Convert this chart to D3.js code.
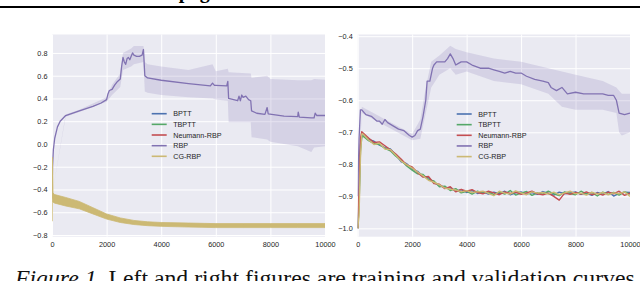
<!DOCTYPE html>
<html>
<head>
<meta charset="utf-8">
<script src="https://cdn.jsdelivr.net/npm/d3@7"></script>
<style>
  body { margin: 0; background: #fff; }
  svg { display: block; }
</style>
</head>
<body>
<div id="plot"></div>
<script>
// series names + seaborn "deep" colours
let seriesNames = ['BPTT', 'TBPTT', 'Neumann-RBP', 'RBP', 'CG-RBP'];
let colorArray = d3.scaleOrdinal()
  .domain(seriesNames)
  .range(['#4C72B0', '#55A868', '#C44E52', '#8172B2', '#CCB974']);

let xTicks = [0, 2000, 4000, 6000, 8000, 10000];
let leftYTicks = [0.8, 0.6, 0.4, 0.2, 0.0, -0.2, -0.4, -0.6, -0.8];
let rightYTicks = [-0.4, -0.5, -0.6, -0.7, -0.8, -0.9, -1.0];

// ---- left figure (training) ----
let trainRbpX = [0, 20, 50, 100, 200, 300, 500, 1000, 1500, 1800, 2000, 2050, 2100, 2200, 2300, 2400, 2500, 2550, 2600, 2650, 2700, 2750, 2800, 2850, 2900, 2950, 3000, 3100, 3200, 3300, 3350, 3400, 3500, 4000, 5000, 5800, 5880, 5950, 6000, 6400, 6440, 6470, 6800, 6850, 6900, 6950, 7000, 7100, 7200, 7280, 7310, 7500, 7800, 7880, 7920, 8500, 9000, 9020, 9060, 9500, 9600, 9640, 9700, 10000];
let trainRbpY = [-0.45, -0.2, -0.05, 0.05, 0.15, 0.2, 0.25, 0.29, 0.33, 0.36, 0.39, 0.44, 0.47, 0.48, 0.52, 0.55, 0.57, 0.68, 0.76, 0.72, 0.70, 0.75, 0.76, 0.74, 0.77, 0.80, 0.78, 0.77, 0.77, 0.78, 0.83, 0.60, 0.58, 0.56, 0.53, 0.51, 0.535, 0.515, 0.515, 0.51, 0.55, 0.40, 0.38, 0.42, 0.38, 0.43, 0.41, 0.42, 0.39, 0.38, 0.29, 0.27, 0.26, 0.32, 0.265, 0.245, 0.24, 0.28, 0.235, 0.23, 0.23, 0.27, 0.25, 0.25];
let trainBandX = [0, 500, 1000, 2000, 2200, 2500, 2600, 2900, 3000, 3350, 3400, 3500, 4000, 5000, 5880, 6000, 6440, 6470, 7280, 7310, 7880, 8000, 9000, 9500, 9600, 10000];
let trainBandHi = [-0.45, 0.26, 0.30, 0.41, 0.52, 0.62, 0.80, 0.84, 0.86, 0.86, 0.72, 0.70, 0.68, 0.65, 0.70, 0.64, 0.66, 0.63, 0.62, 0.58, 0.60, 0.57, 0.56, 0.56, 0.57, 0.565];
let trainBandLo = [-0.45, 0.24, 0.28, 0.37, 0.43, 0.50, 0.65, 0.68, 0.70, 0.72, 0.46, 0.45, 0.43, 0.41, 0.40, 0.39, 0.38, 0.19, 0.19, 0.06, 0.04, 0.02, -0.02, -0.07, -0.03, -0.02];

let trainLowX = [30, 100, 500, 1000, 1500, 2000, 2500, 3000, 3500, 4000, 5000, 6000, 7000, 8000, 9000, 10000];
let trainLowHi = [-0.43, -0.445, -0.47, -0.505, -0.56, -0.615, -0.65, -0.672, -0.684, -0.69, -0.695, -0.70, -0.70, -0.70, -0.70, -0.70];
let trainLowLo = [-0.51, -0.52, -0.545, -0.57, -0.615, -0.66, -0.69, -0.708, -0.718, -0.724, -0.73, -0.735, -0.735, -0.735, -0.735, -0.735];
let trainLowMid = [-0.47, -0.482, -0.508, -0.538, -0.588, -0.638, -0.67, -0.69, -0.701, -0.707, -0.712, -0.717, -0.717, -0.717, -0.717, -0.717];
let trainCgX = [0, 10, 30, 100, 500, 1000, 1500, 2000, 2500, 3000, 3500, 4000, 5000, 6000, 7000, 8000, 9000, 10000];
let trainCgY = [-0.68, -0.12, -0.47, -0.48, -0.506, -0.54, -0.586, -0.64, -0.668, -0.69, -0.70, -0.708, -0.71, -0.718, -0.716, -0.719, -0.717, -0.72];

// ---- right figure (validation) ----
let validRbpX = [0, 50, 100, 150, 300, 500, 700, 800, 900, 1000, 1100, 1300, 1500, 1700, 1900, 2000, 2100, 2200, 2300, 2400, 2500, 2550, 2650, 2750, 2800, 2900, 3200, 3300, 3400, 3500, 3600, 3700, 3800, 4000, 4200, 4500, 4800, 5000, 5200, 5400, 5600, 5800, 6000, 6200, 6500, 6800, 7000, 7100, 7300, 7500, 7700, 8000, 8300, 8600, 9000, 9200, 9400, 9500, 9600, 9800, 10000];
let validRbpY = [-0.90, -0.72, -0.63, -0.63, -0.645, -0.65, -0.665, -0.665, -0.675, -0.66, -0.67, -0.68, -0.69, -0.695, -0.71, -0.715, -0.71, -0.695, -0.69, -0.65, -0.60, -0.54, -0.54, -0.50, -0.49, -0.48, -0.48, -0.47, -0.455, -0.47, -0.49, -0.485, -0.48, -0.48, -0.49, -0.50, -0.50, -0.505, -0.51, -0.515, -0.51, -0.515, -0.515, -0.525, -0.535, -0.54, -0.545, -0.56, -0.57, -0.56, -0.58, -0.575, -0.58, -0.58, -0.58, -0.585, -0.585, -0.60, -0.64, -0.645, -0.64];
let validBandX = [0, 150, 2000, 2300, 2500, 2700, 3000, 3400, 3600, 4000, 5000, 6000, 7000, 7500, 8000, 9000, 9500, 9600, 9700, 10000];
let validBandHi = [-0.90, -0.62, -0.705, -0.66, -0.56, -0.48, -0.46, -0.43, -0.44, -0.45, -0.47, -0.48, -0.50, -0.51, -0.52, -0.54, -0.56, -0.57, -0.58, -0.58];
let validBandLo = [-0.90, -0.64, -0.725, -0.72, -0.64, -0.56, -0.52, -0.50, -0.52, -0.51, -0.54, -0.55, -0.58, -0.62, -0.63, -0.63, -0.64, -0.70, -0.71, -0.70];

let validLowX = [0, 50, 100, 150, 200, 400, 600, 800, 1000, 1200, 1400, 1600, 1800, 2000, 2200, 2400, 2600, 2800, 3000, 3200, 3400, 3600, 3800, 4000, 4200, 4400, 4600, 4800, 5000, 5200, 5400, 5600, 5800, 6000, 6200, 6400, 6600, 6800, 7000, 7200, 7400, 7600, 7800, 8000, 8200, 8400, 8600, 8800, 9000, 9200, 9400, 9600, 9800, 10000];
let validBptt = [-1.00, -0.90, -0.74, -0.71,
  -0.708, -0.722, -0.728, -0.740, -0.748, -0.752, -0.770, -0.792, -0.798, -0.815,
  -0.822, -0.838, -0.842, -0.858, -0.866, -0.872, -0.873, -0.884, -0.879, -0.888,
  -0.882, -0.891, -0.886, -0.893, -0.887, -0.892, -0.884, -0.895, -0.889, -0.886,
  -0.893, -0.888, -0.894, -0.885, -0.891, -0.896, -0.887, -0.892, -0.889, -0.886,
  -0.894, -0.890, -0.897, -0.888, -0.893, -0.885, -0.899, -0.891, -0.887, -0.888];
let validTbptt = [-1.00, -0.93, -0.76, -0.715,
  -0.712, -0.726, -0.735, -0.738, -0.750, -0.758, -0.775, -0.788, -0.805, -0.818,
  -0.830, -0.832, -0.848, -0.852, -0.870, -0.868, -0.882, -0.876, -0.889, -0.884,
  -0.893, -0.884, -0.890, -0.886, -0.895, -0.887, -0.893, -0.882, -0.896, -0.890,
  -0.885, -0.897, -0.889, -0.893, -0.884, -0.892, -0.898, -0.886, -0.891, -0.895,
  -0.884, -0.893, -0.888, -0.899, -0.887, -0.894, -0.888, -0.896, -0.886, -0.893];
let validNeumann = [-1.00, -0.86, -0.72, -0.698,
  -0.702, -0.718, -0.732, -0.730, -0.742, -0.755, -0.768, -0.784, -0.802, -0.808,
  -0.826, -0.840, -0.838, -0.860, -0.862, -0.876, -0.870, -0.886, -0.878, -0.884,
  -0.879, -0.888, -0.892, -0.884, -0.889, -0.895, -0.886, -0.891, -0.887, -0.894,
  -0.889, -0.884, -0.892, -0.895, -0.890, -0.900, -0.912, -0.890, -0.894, -0.888,
  -0.893, -0.886, -0.895, -0.890, -0.896, -0.887, -0.892, -0.884, -0.897, -0.890];
let validCg = [-1.00, -0.96, -0.78, -0.705,
  -0.706, -0.724, -0.738, -0.734, -0.752, -0.754, -0.772, -0.790, -0.801, -0.812,
  -0.824, -0.836, -0.850, -0.856, -0.864, -0.874, -0.878, -0.880, -0.886, -0.882,
  -0.888, -0.886, -0.884, -0.891, -0.898, -0.884, -0.890, -0.893, -0.883, -0.889,
  -0.895, -0.886, -0.890, -0.888, -0.893, -0.887, -0.895, -0.889, -0.884, -0.892,
  -0.890, -0.896, -0.887, -0.893, -0.888, -0.895, -0.889, -0.892, -0.886, -0.900];

let width = 640, height = 281;

let svg = d3.select('#plot')
  .append('svg')
  .attr('width', width)
  .attr('height', height)
  .style('background', '#fff');

// page furniture: running head (only descenders show) + rule
svg.append('text')
  .attr('x', 148)
  .attr('y', -2.5)
  .attr('font-family', 'Liberation Serif, serif')
  .attr('font-weight', 'bold')
  .attr('font-size', 20)
  .text('Propagation');

svg.append('rect')
  .attr('x', 0).attr('y', 6)
  .attr('width', width).attr('height', 2)
  .attr('fill', '#000');

let tickFont = 'Liberation Sans, Arial, sans-serif';

function drawPanel(p) {
  let xScale = d3.scaleLinear().domain([0, 10000]).range([p.left, p.right]);
  let yScale = d3.scaleLinear().domain(p.yDomain).range([p.bottom, p.top]);
  let g = svg.append('g');

  g.append('rect')
    .attr('x', p.left).attr('y', p.top)
    .attr('width', p.right - p.left).attr('height', p.bottom - p.top)
    .attr('fill', '#EAEAF2');

  // grid
  let gy = g.append('g')
    .attr('transform', `translate(${p.left},0)`)
    .call(d3.axisLeft(yScale).tickValues(p.yTicks).tickSize(-(p.right - p.left)).tickFormat(''));
  let gx = g.append('g')
    .attr('transform', `translate(0,${p.bottom})`)
    .call(d3.axisBottom(xScale).tickValues(xTicks).tickSize(-(p.bottom - p.top)).tickFormat(''));
  [gx, gy].forEach(a => {
    a.select('.domain').remove();
    a.selectAll('line').attr('stroke', '#fff').attr('stroke-width', 1);
  });

  // tick labels
  let ly = g.append('g')
    .attr('transform', `translate(${p.left},0)`)
    .call(d3.axisLeft(yScale).tickValues(p.yTicks).tickSize(0).tickPadding(p.yPad).tickFormat(d3.format('.1f')));
  let lx = g.append('g')
    .attr('transform', `translate(0,${p.bottom})`)
    .call(d3.axisBottom(xScale).tickValues(xTicks).tickSize(0).tickPadding(5.5).tickFormat(d3.format('d')));
  [lx, ly].forEach(a => {
    a.select('.domain').remove();
    a.selectAll('text').attr('font-family', tickFont).attr('font-size', 7.3).attr('fill', '#262626');
  });

  let clipId = 'clip' + Math.round(p.left);
  svg.append('clipPath').attr('id', clipId)
    .append('rect')
    .attr('x', p.left).attr('y', p.top)
    .attr('width', p.right - p.left).attr('height', p.bottom - p.top);
  let plot = g.append('g').attr('clip-path', `url(#${clipId})`);

  let line = d3.line().x(d => xScale(d[0])).y(d => yScale(d[1]));
  let area = d3.area().x(d => xScale(d[0])).y0(d => yScale(d[1])).y1(d => yScale(d[2]));

  p.bands.forEach(b => {
    plot.append('path')
      .attr('d', area(d3.zip(b.x, b.lo, b.hi)))
      .attr('fill', colorArray(b.name))
      .attr('fill-opacity', b.opacity)
      .attr('stroke', b.stroke ? colorArray(b.name) : 'none')
      .attr('stroke-width', 0.8);
  });
  p.lines.forEach(s => {
    plot.append('path')
      .attr('d', line(d3.zip(s.x, s.y)))
      .attr('fill', 'none')
      .attr('stroke', colorArray(s.name))
      .attr('stroke-width', s.w || 1.3)
      .attr('stroke-linejoin', 'round');
  });
  (p.after || []).forEach(b => {
    plot.append('path')
      .attr('d', area(d3.zip(b.x, b.lo, b.hi)))
      .attr('fill', colorArray(b.name))
      .attr('stroke', colorArray(b.name))
      .attr('stroke-width', 0.8);
  });

  // legend
  let legend = g.append('g');
  seriesNames.forEach((name, i) => {
    let y = p.legendY + i * 10.65;
    legend.append('line')
      .attr('x1', p.legendX).attr('x2', p.legendX + 15)
      .attr('y1', y).attr('y2', y)
      .attr('stroke', colorArray(name)).attr('stroke-width', 1.6);
    legend.append('text')
      .attr('x', p.legendX + 21.5).attr('y', y)
      .attr('dy', '0.35em')
      .attr('font-family', tickFont).attr('font-size', 7.2)
      .attr('fill', '#262626')
      .text(name);
  });
}

drawPanel({
  left: 52, right: 325, top: 34.5, bottom: 236.7,
  yDomain: [-0.815, 0.962], yTicks: leftYTicks, yPad: 4.5,
  legendX: 151.7, legendY: 113.7,
  bands: [
    { name: 'RBP', x: trainBandX, lo: trainBandLo, hi: trainBandHi, opacity: 0.2 }
  ],
  lines: [
    { name: 'BPTT', x: trainLowX, y: trainLowMid },
    { name: 'TBPTT', x: trainLowX, y: trainLowMid },
    { name: 'Neumann-RBP', x: trainLowX, y: trainLowMid },
    { name: 'RBP', x: trainRbpX, y: trainRbpY },
    { name: 'CG-RBP', x: trainCgX, y: trainCgY }
  ],
  // thick noisy CG-RBP trace, drawn as its envelope on top
  after: [
    { name: 'CG-RBP', x: trainLowX, lo: trainLowLo, hi: trainLowHi }
  ]
});

drawPanel({
  left: 357.7, right: 630, top: 34.5, bottom: 236.7,
  yDomain: [-1.026, -0.3947], yTicks: rightYTicks, yPad: 5,
  legendX: 456.7, legendY: 114,
  bands: [
    { name: 'RBP', x: validBandX, lo: validBandLo, hi: validBandHi, opacity: 0.2 }
  ],
  lines: [
    { name: 'BPTT', x: validLowX, y: validBptt, w: 1.4 },
    { name: 'TBPTT', x: validLowX, y: validTbptt, w: 1.4 },
    { name: 'Neumann-RBP', x: validLowX, y: validNeumann, w: 1.4 },
    { name: 'RBP', x: validRbpX, y: validRbpY },
    { name: 'CG-RBP', x: validLowX, y: validCg, w: 1.4 }
  ]
});

// caption (cut by the bottom edge, as in the page)
let caption = svg.append('text')
  .attr('x', 15)
  .attr('y', 285.5)
  .attr('font-family', 'Liberation Serif, Times New Roman, serif')
  .attr('font-size', 21)
  .attr('fill', '#111');
caption.append('tspan').attr('font-style', 'italic').text('Figure 1.');
caption.append('tspan').text(' Left and right figures are training and validation curves');
let capW = caption.node().getComputedTextLength();
if (capW > 0) caption.attr('font-size', 21 * 620 / capW);
</script>
</body>
</html>
